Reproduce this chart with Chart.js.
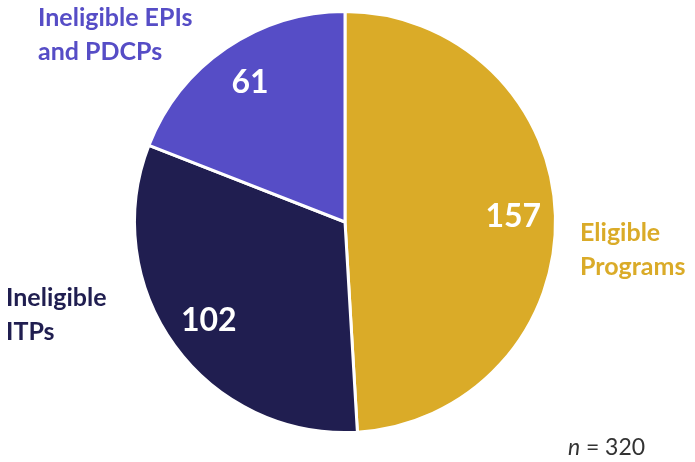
<!DOCTYPE html>
<html>
<head>
<meta charset="utf-8">
<script src="https://cdn.jsdelivr.net/npm/chart.js@4"></script>
<style>
  html, body { margin: 0; padding: 0; background: #fff; }
  #wrap { width: 695px; height: 462px; position: relative; }
</style>
</head>
<body>
<div id="wrap"><canvas id="pieChart"></canvas></div>
<script>
// data
const categories = ['Eligible Programs', 'Ineligible ITPs', 'Ineligible EPIs and PDCPs'];
const counts = [157, 102, 61];
const colors = ['#DAAB28', '#201E50', '#564DC6'];
const labelLines = [['Eligible', 'Programs'], ['Ineligible', 'ITPs'], ['Ineligible EPIs', 'and PDCPs']];
const labelSpots = [[580, 233], [6, 298], [38, 18]];
const totalNote = 320;

const FONT = 'Lato, "Open Sans", sans-serif';

// slice values inside + category names outside
const sliceText = {
    id: 'sliceText',
    afterDatasetsDraw(chart) {
        const c = chart.ctx;
        const arcs = chart.getDatasetMeta(0).data;
        c.save();
        arcs.forEach(function(arc, i) {
            const mid = (arc.startAngle + arc.endAngle) / 2;
            const r = arc.outerRadius * 0.8;
            c.fillStyle = '#fff';
            c.font = 'bold 32px ' + FONT;
            c.textAlign = 'center';
            c.textBaseline = 'middle';
            c.fillText(counts[i], arc.x + Math.cos(mid) * r, arc.y + Math.sin(mid) * r);

            c.fillStyle = colors[i];
            c.font = 'bold 25px ' + FONT;
            c.textAlign = 'left';
            labelLines[i].forEach(function(line, j) {
                c.fillText(line, labelSpots[i][0], labelSpots[i][1] + j * 34);
            });
        });
        c.fillStyle = '#333';
        c.font = 'italic 23px ' + FONT;
        c.textAlign = 'left';
        c.textBaseline = 'middle';
        c.fillText('n', 568, 448);
        c.font = '23px ' + FONT;
        c.fillText(' = ' + totalNote, 580, 448);
        c.restore();
    }
};

document.addEventListener('DOMContentLoaded', function() {
    const ctx = document.getElementById('pieChart');
    new Chart(ctx, {
        type: 'pie',
        data: {
            labels: categories,
            datasets: [{
                data: counts,
                backgroundColor: colors,
                borderColor: '#fff',
                borderWidth: 3
            }]
        },
        options: {
            responsive: true,
            maintainAspectRatio: false,
            animation: false,
            layout: { padding: { top: 10, bottom: 28, left: 0, right: 5 } },
            plugins: {
                legend: { display: false },
                tooltip: { enabled: false }
            }
        },
        plugins: [sliceText]
    });
});
</script>
</body>
</html>
